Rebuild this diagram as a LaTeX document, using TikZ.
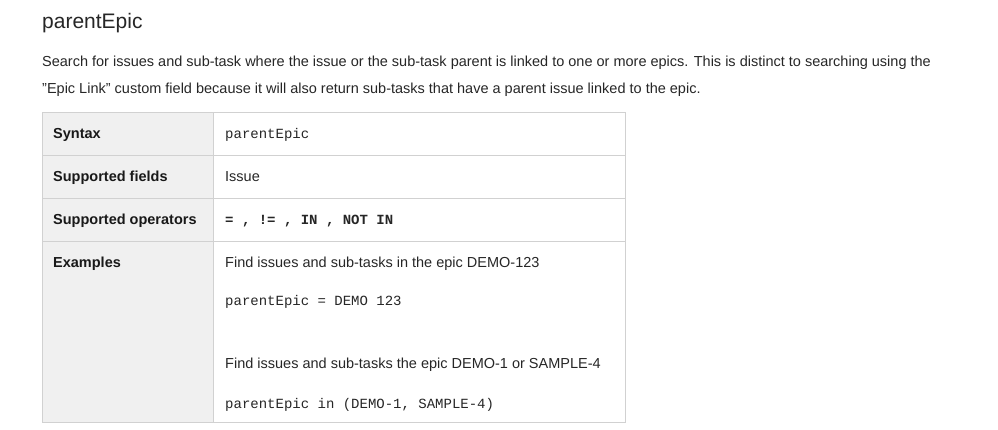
\documentclass[tikz,border=0pt]{standalone}
\usepackage{fontspec}
\setmainfont{Liberation Sans}
\setmonofont{Liberation Mono}
\begin{document}
\begin{tikzpicture}[x=1pt,y=-1pt,
  txt/.style={anchor=base west,inner sep=0pt,font=\fontsize{14.5}{17}\selectfont,text=black!85},
  code/.style={anchor=base west,inner sep=0pt,font=\ttfamily\fontsize{14}{17}\selectfont,text=black!85},
  hdr/.style={anchor=base west,inner sep=0pt,font=\bfseries\fontsize{14.5}{17}\selectfont,text=black!90},
  cell/.style={draw=black!18,line width=1pt}]
\useasboundingbox (0,0) rectangle (998,429);
\node[anchor=base west,inner sep=0pt,font=\fontsize{21}{24}\selectfont,text=black!85] (title) at (42,28) {parentEpic};
\node[txt] (p1) at (42,66) {Search for issues and sub-task where the issue or the sub-task parent is linked to one or more epics. This is distinct to searching using the};
\node[txt] (p2) at (42,93) {"Epic Link" custom field because it will also return sub-tasks that have a parent issue linked to the epic.};
\fill[black!6] (42,112) rectangle (213,422);
\draw[cell] (42,112) rectangle (625,422);
\draw[cell] (213,112) -- (213,422);
\foreach \y in {155,198,241} \draw[cell] (42,\y) -- (625,\y);
\node[hdr] (h1) at (53,138) {Syntax};
\node[hdr] (h2) at (53,181) {Supported fields};
\node[hdr] (h3) at (53,224) {Supported operators};
\node[hdr] (h4) at (53,267) {Examples};
\node[code] (c1) at (225,138) {parentEpic};
\node[txt] (c2) at (225,181) {Issue};
\node[code] (c3) at (225,224) {\bfseries= , != , IN , NOT IN};
\node[txt] (e1) at (225,267) {Find issues and sub-tasks in the epic DEMO-123};
\node[code] (e2) at (225,305) {parentEpic = DEMO 123};
\node[txt] (e3) at (225,368) {Find issues and sub-tasks the epic DEMO-1 or SAMPLE-4};
\node[code] (e4) at (225,408) {parentEpic in (DEMO-1, SAMPLE-4)};
\end{tikzpicture}
\end{document}
